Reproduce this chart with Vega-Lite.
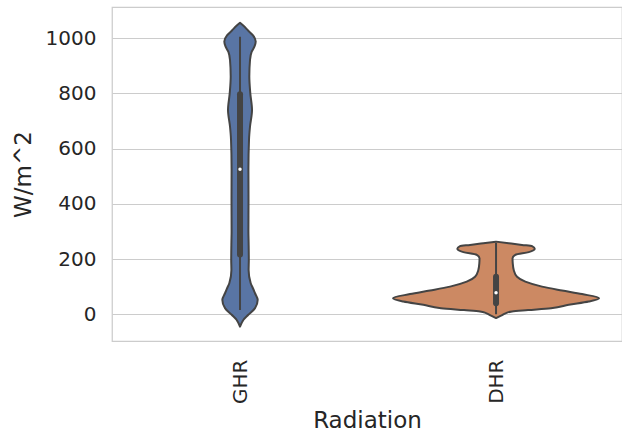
{
  "$schema": "https://vega.github.io/schema/vega-lite/v6.json",
  "autosize": {"type": "none"},
  "padding": {"left": 112, "top": 7, "right": 0, "bottom": 93},
  "width": 510,
  "height": 334,
  "background": "white",
  "config": {
    "font": "DejaVu Sans",
    "view": {"stroke": "#cccccc", "strokeWidth": 1.25},
    "axis": {
      "domain": false,
      "ticks": false,
      "tickSize": 0,
      "labelFont": "DejaVu Sans",
      "titleFont": "DejaVu Sans",
      "labelColor": "#262626",
      "titleColor": "#262626",
      "labelFontSize": 20,
      "titleFontSize": 23,
      "titleFontWeight": "normal",
      "gridColor": "#cccccc",
      "gridWidth": 1,
      "gridOpacity": 1
    }
  },
  "datasets": {
    "outline": [
      {"radiation": "GHR", "center": 0, "value": -45, "halfwidth": 0},
      {"radiation": "GHR", "center": 0, "value": -32, "halfwidth": 1.6},
      {"radiation": "GHR", "center": 0, "value": -20, "halfwidth": 3.5},
      {"radiation": "GHR", "center": 0, "value": -2, "halfwidth": 8.3},
      {"radiation": "GHR", "center": 0, "value": 22, "halfwidth": 15},
      {"radiation": "GHR", "center": 0, "value": 52, "halfwidth": 17.7},
      {"radiation": "GHR", "center": 0, "value": 76, "halfwidth": 15},
      {"radiation": "GHR", "center": 0, "value": 95, "halfwidth": 12.8},
      {"radiation": "GHR", "center": 0, "value": 112, "halfwidth": 10.7},
      {"radiation": "GHR", "center": 0, "value": 160, "halfwidth": 8.6},
      {"radiation": "GHR", "center": 0, "value": 197, "halfwidth": 8.8},
      {"radiation": "GHR", "center": 0, "value": 260, "halfwidth": 8.6},
      {"radiation": "GHR", "center": 0, "value": 300, "halfwidth": 8.4},
      {"radiation": "GHR", "center": 0, "value": 414, "halfwidth": 8.5},
      {"radiation": "GHR", "center": 0, "value": 525, "halfwidth": 8.4},
      {"radiation": "GHR", "center": 0, "value": 633, "halfwidth": 9},
      {"radiation": "GHR", "center": 0, "value": 680, "halfwidth": 10},
      {"radiation": "GHR", "center": 0, "value": 740, "halfwidth": 12},
      {"radiation": "GHR", "center": 0, "value": 800, "halfwidth": 10.3},
      {"radiation": "GHR", "center": 0, "value": 861, "halfwidth": 9.3},
      {"radiation": "GHR", "center": 0, "value": 921, "halfwidth": 10},
      {"radiation": "GHR", "center": 0, "value": 951, "halfwidth": 11.7},
      {"radiation": "GHR", "center": 0, "value": 970, "halfwidth": 14.5},
      {"radiation": "GHR", "center": 0, "value": 988, "halfwidth": 15.7},
      {"radiation": "GHR", "center": 0, "value": 1010, "halfwidth": 13},
      {"radiation": "GHR", "center": 0, "value": 1027, "halfwidth": 8.3},
      {"radiation": "GHR", "center": 0, "value": 1045, "halfwidth": 3.5},
      {"radiation": "GHR", "center": 0, "value": 1056, "halfwidth": 0},
      {"radiation": "DHR", "center": 1, "value": -14, "halfwidth": 0},
      {"radiation": "DHR", "center": 1, "value": -5, "halfwidth": 5},
      {"radiation": "DHR", "center": 1, "value": 4, "halfwidth": 10},
      {"radiation": "DHR", "center": 1, "value": 10, "halfwidth": 16},
      {"radiation": "DHR", "center": 1, "value": 15, "halfwidth": 32},
      {"radiation": "DHR", "center": 1, "value": 22, "halfwidth": 55},
      {"radiation": "DHR", "center": 1, "value": 34, "halfwidth": 72.7},
      {"radiation": "DHR", "center": 1, "value": 46, "halfwidth": 92.7},
      {"radiation": "DHR", "center": 1, "value": 58, "halfwidth": 103},
      {"radiation": "DHR", "center": 1, "value": 73, "halfwidth": 86},
      {"radiation": "DHR", "center": 1, "value": 86, "halfwidth": 66},
      {"radiation": "DHR", "center": 1, "value": 100, "halfwidth": 46},
      {"radiation": "DHR", "center": 1, "value": 118, "halfwidth": 29.3},
      {"radiation": "DHR", "center": 1, "value": 136, "halfwidth": 21},
      {"radiation": "DHR", "center": 1, "value": 160, "halfwidth": 17.7},
      {"radiation": "DHR", "center": 1, "value": 185, "halfwidth": 16.7},
      {"radiation": "DHR", "center": 1, "value": 203, "halfwidth": 16.5},
      {"radiation": "DHR", "center": 1, "value": 215, "halfwidth": 19.3},
      {"radiation": "DHR", "center": 1, "value": 225, "halfwidth": 32.7},
      {"radiation": "DHR", "center": 1, "value": 237, "halfwidth": 38.7},
      {"radiation": "DHR", "center": 1, "value": 247, "halfwidth": 36},
      {"radiation": "DHR", "center": 1, "value": 251, "halfwidth": 26},
      {"radiation": "DHR", "center": 1, "value": 257, "halfwidth": 12.7},
      {"radiation": "DHR", "center": 1, "value": 263, "halfwidth": 0}
    ],
    "summary": [
      {"radiation": "GHR", "center": 0, "low": 15, "q1": 216, "median": 525, "q3": 797, "high": 1005},
      {"radiation": "DHR", "center": 1, "low": 0, "q1": 40, "median": 78, "q3": 136, "high": 258}
    ]
  },
  "layer": [
    {
      "data": {"name": "outline"},
      "transform": [
        {"calculate": "datum.center - datum.halfwidth / 256", "as": "left"},
        {"calculate": "datum.center + datum.halfwidth / 256", "as": "right"}
      ],
      "mark": {
        "type": "area",
        "orient": "horizontal",
        "interpolate": "monotone",
        "stroke": "#444444",
        "strokeWidth": 2,
        "strokeJoin": "round"
      },
      "encoding": {
        "y": {
          "field": "value",
          "type": "quantitative",
          "scale": {"domain": [-97, 1113], "nice": false, "zero": false},
          "axis": {
            "title": "W/m^2",
            "values": [0, 200, 400, 600, 800, 1000],
            "format": "d",
            "grid": true,
            "labelPadding": 16,
            "titlePadding": 10
          }
        },
        "x": {
          "field": "left",
          "type": "quantitative",
          "stack": null,
          "scale": {"domain": [-0.5, 1.492], "nice": false, "zero": false},
          "axis": {
            "title": "Radiation",
            "values": [0, 1],
            "labelExpr": "datum.value == 0 ? 'GHR' : 'DHR'",
            "labelAngle": 270,
            "labelPadding": 18,
            "titlePadding": 6,
            "grid": false
          }
        },
        "x2": {"field": "right"},
        "fill": {
          "field": "radiation",
          "type": "nominal",
          "scale": {"domain": ["GHR", "DHR"], "range": ["#5975a4", "#cc8963"]},
          "legend": null
        }
      }
    },
    {
      "data": {"name": "summary"},
      "mark": {"type": "rule", "color": "#444444", "strokeWidth": 2},
      "encoding": {
        "x": {"field": "center", "type": "quantitative"},
        "y": {"field": "low", "type": "quantitative"},
        "y2": {"field": "high"}
      }
    },
    {
      "data": {"name": "summary"},
      "mark": {"type": "rule", "color": "#444444", "strokeWidth": 6, "strokeCap": "round"},
      "encoding": {
        "x": {"field": "center", "type": "quantitative"},
        "y": {"field": "q1", "type": "quantitative"},
        "y2": {"field": "q3"}
      }
    },
    {
      "data": {"name": "summary"},
      "mark": {"type": "point", "filled": true, "color": "white", "size": 12, "opacity": 1},
      "encoding": {
        "x": {"field": "center", "type": "quantitative"},
        "y": {"field": "median", "type": "quantitative"}
      }
    }
  ]
}
